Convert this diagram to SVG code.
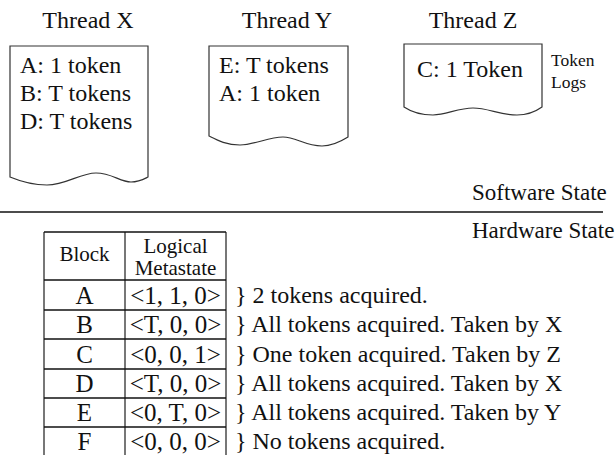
<svg xmlns="http://www.w3.org/2000/svg" width="616" height="455" viewBox="0 0 616 455">
  <style>
    text { font-family: "Liberation Serif", "Times New Roman", Times, serif; fill: #111; }
    .lbl { font-size: 24px; }
    .state { font-size: 23px; }
    .box { font-size: 24px; }
    .small { font-size: 17.5px; }
    .hdr { font-size: 21px; text-anchor: middle; }
    .cell { font-size: 25px; text-anchor: middle; }
    .note { font-size: 24px; }
    .mid { text-anchor: middle; }
    .doc { fill: #fff; stroke: #333; stroke-width: 1.2; }
    .grid { stroke: #111; stroke-width: 1.6; fill: none; }
    .vgrid { stroke: #555; stroke-width: 1.6; fill: none; }
  </style>
  <rect width="616" height="455" fill="#fff"/>

  <g id="thread-x">
    <text class="lbl mid" x="88" y="28">Thread X</text>
    <path class="doc" d="M10,46 H148 V177 C144,179 139,182 131,182 C120,182 112,173 96,173 C80,173 66,185 47,185 C34,185 22,182 10,177 Z"/>
    <text class="box" x="20" y="73">A: 1 token</text>
    <text class="box" x="20" y="101">B: T tokens</text>
    <text class="box" x="20" y="129">D: T tokens</text>
  </g>

  <g id="thread-y">
    <text class="lbl mid" x="287" y="28">Thread Y</text>
    <path class="doc" d="M209,46 H348 V137 C340,142 332,146 322,146 C305,146 296,137 283,137 C268,137 255,145 240,145 C226,145 217,140 209,136 Z"/>
    <text class="box" x="219" y="73">E: T tokens</text>
    <text class="box" x="219" y="101">A: 1 token</text>
  </g>

  <g id="thread-z">
    <text class="lbl mid" x="473" y="28">Thread Z</text>
    <path class="doc" d="M404,44 H542 V107 C535,112 526,115 517,115 C500,115 488,108 473,108 C458,108 446,115 433,115 C420,115 410,111 404,107 Z"/>
    <text class="box" x="417" y="77">C: 1 Token</text>
  </g>

  <g id="token-logs">
    <text class="small" x="551" y="66">Token</text>
    <text class="small" x="551" y="88">Logs</text>
  </g>

  <g id="state-divider">
    <text class="state" x="472" y="200">Software State</text>
    <line x1="0" y1="212" x2="603" y2="212" stroke="#111" stroke-width="1.6"/>
    <text class="state" x="472" y="238">Hardware State</text>
  </g>

  <g id="metastate-table">
    <line class="vgrid" x1="44" y1="232" x2="44" y2="455"/>
    <line class="vgrid" x1="125" y1="232" x2="125" y2="455"/>
    <line class="vgrid" x1="226" y1="232" x2="226" y2="455"/>
    <line class="grid" x1="44" y1="232" x2="226" y2="232"/>
    <line class="grid" x1="44" y1="280" x2="226" y2="280"/>
    <line class="grid" x1="44" y1="310" x2="226" y2="310"/>
    <line class="grid" x1="44" y1="339" x2="226" y2="339"/>
    <line class="grid" x1="44" y1="369" x2="226" y2="369"/>
    <line class="grid" x1="44" y1="398" x2="226" y2="398"/>
    <line class="grid" x1="44" y1="427" x2="226" y2="427"/>

    <text class="hdr" x="84.5" y="261">Block</text>
    <text class="hdr" x="175.5" y="253">Logical</text>
    <text class="hdr" x="175.5" y="275">Metastate</text>

    <text class="cell" x="84.5" y="304">A</text>
    <text class="cell" x="175.5" y="304">&lt;1, 1, 0&gt;</text>
    <text class="note" x="235" y="303">} 2 tokens acquired.</text>

    <text class="cell" x="84.5" y="333">B</text>
    <text class="cell" x="175.5" y="333">&lt;T, 0, 0&gt;</text>
    <text class="note" x="235" y="332">} All tokens acquired. Taken by X</text>

    <text class="cell" x="84.5" y="363">C</text>
    <text class="cell" x="175.5" y="363">&lt;0, 0, 1&gt;</text>
    <text class="note" x="235" y="362">} One token acquired. Taken by Z</text>

    <text class="cell" x="84.5" y="392">D</text>
    <text class="cell" x="175.5" y="392">&lt;T, 0, 0&gt;</text>
    <text class="note" x="235" y="391">} All tokens acquired. Taken by X</text>

    <text class="cell" x="84.5" y="421">E</text>
    <text class="cell" x="175.5" y="421">&lt;0, T, 0&gt;</text>
    <text class="note" x="235" y="420">} All tokens acquired. Taken by Y</text>

    <text class="cell" x="84.5" y="450">F</text>
    <text class="cell" x="175.5" y="450">&lt;0, 0, 0&gt;</text>
    <text class="note" x="235" y="449">} No tokens acquired.</text>
  </g>
</svg>
